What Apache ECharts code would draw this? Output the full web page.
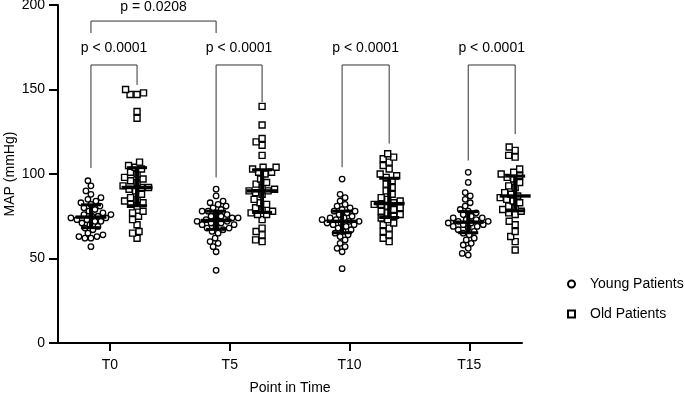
<!DOCTYPE html>
<html>
<head>
<meta charset="utf-8">
<script src="https://cdn.jsdelivr.net/npm/echarts@6/dist/echarts.min.js"></script>
<style>
html,body{margin:0;padding:0;background:#fff;}
#main{width:685px;height:394px;}
</style>
</head>
<body>
<div id="main"></div>
<script>
var categories = ['T0', 'T5', 'T10', 'T15'];

var youngT0 = [96, 93, 90, 88, 86, 85, 84, 83, 82, 81, 80, 79, 78, 77, 76, 76, 75, 75, 74, 74, 73, 73, 72, 72, 71, 70, 69, 68, 67, 65, 64, 63, 63, 62, 62, 57];
var youngT5 = [91, 87, 84, 83, 82, 81, 80, 79, 78, 78, 77, 76, 75, 75, 74, 74, 73, 73, 72, 72, 71, 71, 70, 70, 69, 68, 68, 67, 66, 65, 62, 60, 59, 57, 54, 43];
var youngT10 = [97, 88, 86, 84, 82, 81, 80, 79, 78, 78, 77, 76, 75, 74, 74, 73, 73, 72, 72, 71, 71, 70, 70, 69, 68, 67, 66, 65, 64, 63, 61, 59, 57, 56, 54, 44];
var youngT15 = [101, 95, 89, 87, 85, 83, 81, 79, 78, 77, 76, 75, 74, 74, 73, 73, 72, 72, 71, 71, 70, 70, 69, 69, 68, 67, 66, 65, 64, 62, 61, 59, 58, 56, 53, 52];

var oldT0 = [150, 148, 147, 147, 137, 133, 107, 105, 104, 103, 101, 100, 98, 97, 96, 95, 93, 92, 92, 91, 90, 88, 86, 85, 84, 83, 82, 81, 78, 77, 75, 73, 70, 66, 65, 62];
var oldT5 = [140, 129, 121, 119, 117, 111, 104, 104, 103, 101, 101, 100, 97, 95, 94, 92, 91, 90, 90, 89, 88, 85, 83, 82, 80, 79, 78, 77, 76, 76, 73, 68, 66, 64, 61, 60];
var oldT10 = [112, 110, 109, 107, 105, 103, 100, 99, 98, 96, 94, 92, 90, 88, 86, 85, 84, 83, 82, 82, 81, 80, 79, 78, 77, 76, 75, 74, 73, 71, 70, 68, 66, 64, 62, 60];
var oldT15 = [116, 114, 111, 110, 103, 101, 100, 100, 99, 98, 97, 95, 93, 92, 90, 89, 88, 87, 87, 86, 86, 85, 84, 83, 81, 80, 79, 78, 77, 76, 72, 70, 66, 63, 60, 55];

var pairLabels = ['p < 0.0001', 'p < 0.0001', 'p < 0.0001', 'p < 0.0001'];
var youngLegEnd = [103.5, 98, 104, 108];
var oldLegEnd = [152.7, 142.6, 118, 123.6];
var topLabel = 'p = 0.0208';

var youngData = [youngT0, youngT5, youngT10, youngT15];
var oldData = [oldT0, oldT5, oldT10, oldT15];

// layout: where each group sits on the x axis
var youngX = [-0.159, 0.886, 1.938, 2.991];
var oldX = [0.226, 1.270, 2.331, 3.383];
var xMin = -0.434, xMax = 3.44;
var gridW = 464, gridH = 338;
var pxPerX = gridW / (xMax - xMin);
var pxPerY = gridH / 200;

function swarm(values, cx, size) {
	var sorted = values.slice().sort(function(a, b){ return a - b; });
	var placed = [];
	var out = [];
	for (var i = 0; i < sorted.length; i++) {
		var py = sorted[i] * pxPerY;
		var best = 0;
		for (var k = 0; k < 200; k++) {
			var off = (k % 2 === 0 ? 1 : -1) * Math.ceil(k / 2) * 0.5;
			var ok = true;
			for (var j = 0; j < placed.length; j++) {
				var dx = placed[j][0] - off, dy = placed[j][1] - py;
				if (dx * dx + dy * dy < size * size) { ok = false; break; }
			}
			if (ok) { best = off; break; }
		}
		placed.push([best, py]);
		out.push([cx + best / pxPerX, sorted[i]]);
	}
	return out;
}

function quantile(values, p) {
	var s = values.slice().sort(function(a, b){ return a - b; });
	var pos = p * (s.length + 1) - 1;
	var lo = Math.floor(pos), hi = Math.ceil(pos);
	if (lo < 0) return s[0];
	if (hi >= s.length) return s[s.length - 1];
	return s[lo] + (s[hi] - s[lo]) * (pos - lo);
}

var youngPts = [], oldPts = [], bars = [], brackets = [];
for (var i = 0; i < categories.length; i++) {
	youngPts = youngPts.concat(swarm(youngData[i], youngX[i], 5.8));
	oldPts = oldPts.concat(swarm(oldData[i], oldX[i], 6.6));
	bars.push([youngX[i], quantile(youngData[i], 0.25), quantile(youngData[i], 0.5), quantile(youngData[i], 0.75)]);
	bars.push([oldX[i], quantile(oldData[i], 0.25), quantile(oldData[i], 0.5), quantile(oldData[i], 0.75)]);
	brackets.push([youngX[i], oldX[i], 164.5, youngLegEnd[i], oldLegEnd[i], 174.5]);
}
brackets.push([youngX[0], youngX[1], 190.5, 183.4, 183.4, 198.5]);
var bracketText = pairLabels.concat([topLabel]);

var font = 'Liberation Sans, Arial, sans-serif';
var chart = echarts.init(document.getElementById('main'));

var option = {
	backgroundColor: '#fff',
	animation: false,
	textStyle: { fontFamily: font, color: '#000' },
	grid: { left: 58, top: 5, width: gridW, height: gridH, outerBoundsMode: 'none', containLabel: false },
	legend: {
		orient: 'vertical',
		left: 562,
		top: 272,
		itemWidth: 7,
		itemHeight: 7,
		itemGap: 16,
		data: ['Young Patients', 'Old Patients'],
		textStyle: { fontSize: 14, color: '#000', fontFamily: font, padding: [0, 0, 0, 10] }
	},
	xAxis: {
		type: 'value',
		min: xMin,
		max: xMax,
		name: 'Point in Time',
		nameLocation: 'middle',
		nameGap: 38,
		nameMoveOverlap: false,
		nameTextStyle: { fontSize: 14, color: '#000', fontFamily: font },
		splitLine: { show: false },
		axisLine: { onZero: false, lineStyle: { color: '#000', width: 2 } },
		axisTick: { customValues: [0, 1, 2, 3], length: 8, lineStyle: { color: '#000', width: 2 } },
		axisLabel: {
			customValues: [0, 1, 2, 3],
			margin: 15,
			fontSize: 14,
			color: '#000',
			formatter: function(v){ return categories[Math.round(v)]; }
		}
	},
	yAxis: {
		type: 'value',
		min: 0,
		max: 200,
		interval: 50,
		name: 'MAP (mmHg)',
		nameLocation: 'middle',
		nameGap: 41,
		nameMoveOverlap: false,
		nameTextStyle: { fontSize: 14, color: '#000', fontFamily: font },
		splitLine: { show: false },
		axisLine: { show: true, onZero: false, lineStyle: { color: '#000', width: 2 } },
		axisTick: { show: true, length: 9, lineStyle: { color: '#000', width: 2 } },
		axisLabel: { fontSize: 14, color: '#000', margin: 13 }
	},
	series: [
		{
			name: 'Young Patients',
			type: 'scatter',
			symbol: 'circle',
			symbolSize: 5.5,
			data: youngPts,
			itemStyle: { color: '#fff', borderColor: '#000', borderWidth: 1.3, opacity: 1 },
			z: 2
		},
		{
			name: 'Old Patients',
			type: 'scatter',
			symbol: 'rect',
			symbolSize: 6,
			data: oldPts,
			itemStyle: { color: '#fff', borderColor: '#000', borderWidth: 1.4, opacity: 1 },
			z: 2
		},
		{
			type: 'custom',
			data: bars,
			z: 5,
			silent: true,
			renderItem: function(params, api) {
				var x = api.value(0);
				var p1 = api.coord([x, api.value(1)]);
				var pm = api.coord([x, api.value(2)]);
				var p3 = api.coord([x, api.value(3)]);
				var st = { fill: '#000' };
				return {
					type: 'group',
					children: [
						{ type: 'rect', shape: { x: pm[0] - 2, y: p3[1], width: 4, height: p1[1] - p3[1] }, style: st },
						{ type: 'rect', shape: { x: pm[0] - 15.5, y: pm[1] - 1.7, width: 31, height: 3.4 }, style: st },
						{ type: 'rect', shape: { x: pm[0] - 10, y: p3[1] - 1.5, width: 20, height: 3 }, style: st },
						{ type: 'rect', shape: { x: pm[0] - 10, y: p1[1] - 1.5, width: 20, height: 3 }, style: st }
					]
				};
			}
		},
		{
			type: 'custom',
			data: brackets,
			clip: false,
			silent: true,
			z: 6,
			renderItem: function(params, api) {
				var x1 = api.value(0), x2 = api.value(1);
				var a = api.coord([x1, api.value(3)]);
				var b = api.coord([x1, api.value(2)]);
				var c = api.coord([x2, api.value(2)]);
				var d = api.coord([x2, api.value(4)]);
				var t = api.coord([(x1 + x2) / 2, api.value(5)]);
				return {
					type: 'group',
					children: [
						{ type: 'polyline', shape: { points: [a, b, c, d] }, style: { stroke: '#333', lineWidth: 1, fill: null } },
						{ type: 'text', style: { text: bracketText[params.dataIndex], x: t[0], y: t[1], align: 'center', verticalAlign: 'middle', fontSize: 14, fontFamily: font, fill: '#000' } }
					]
				};
			}
		}
	]
};
chart.setOption(option);
</script>
</body>
</html>
